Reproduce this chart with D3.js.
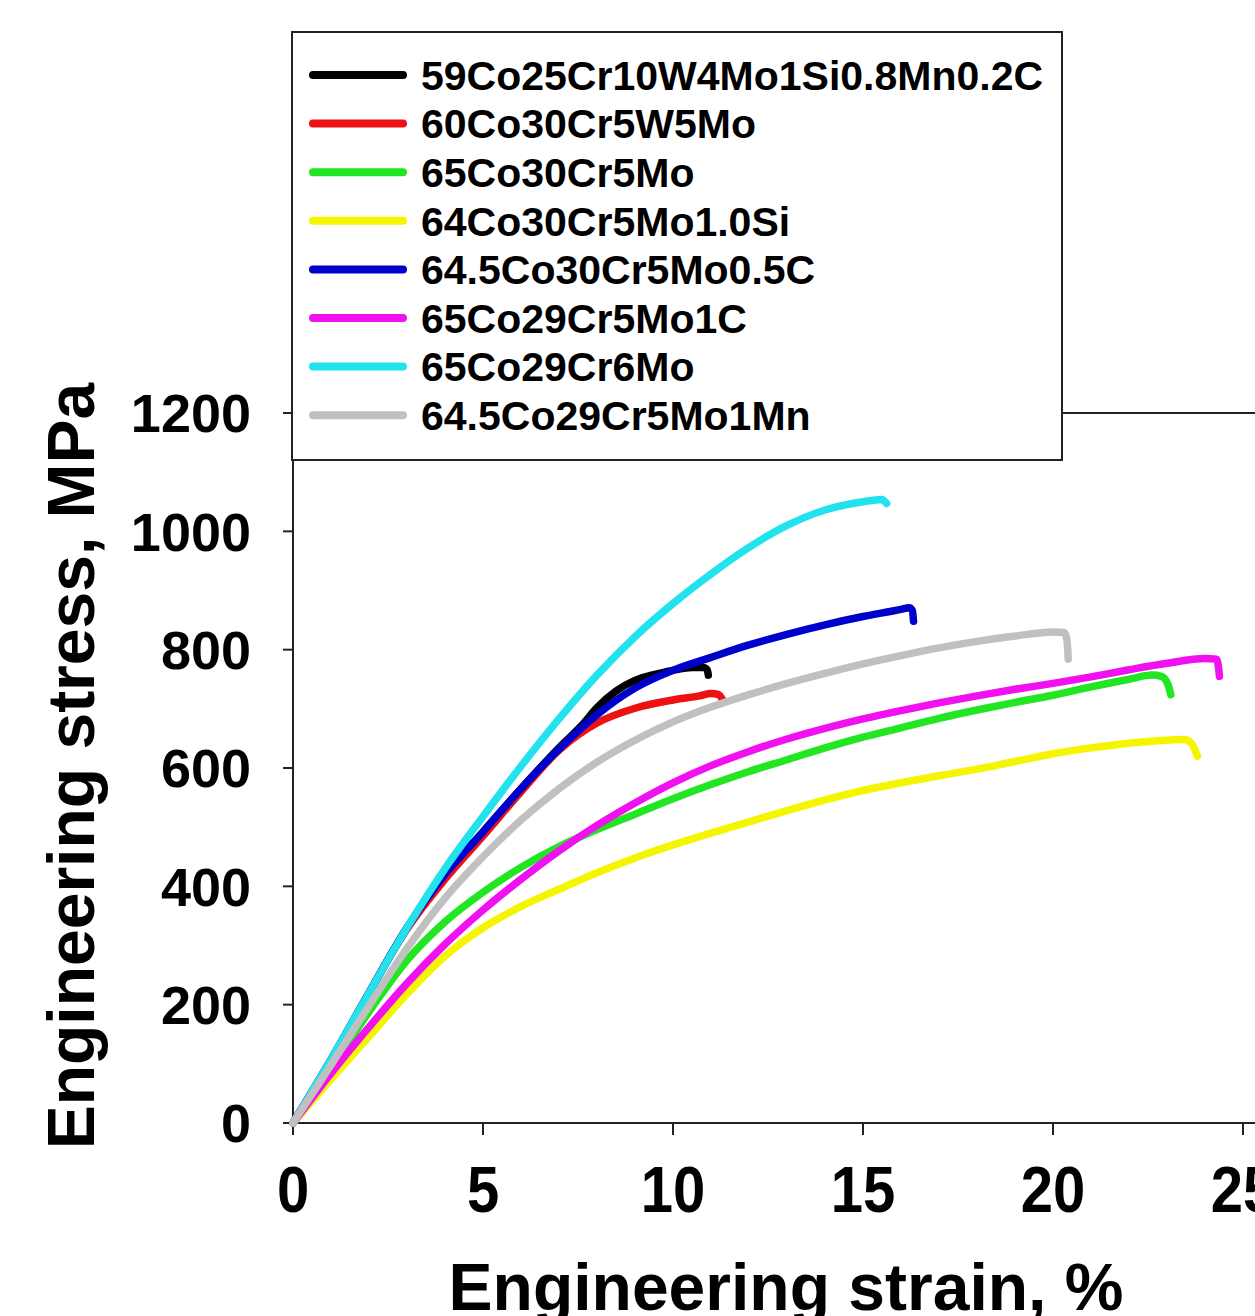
<!DOCTYPE html>
<html>
<head>
    <meta charset="utf-8">
    <script src="https://d3js.org/d3.v7.min.js"></script>
    <style>
        body { margin: 0; background: #fff; }
        text { font-family: "Liberation Sans", Arial, sans-serif; font-weight: bold; fill: #000; }
    </style>
</head>
<body>
    <div id="chart"></div>
    <script>

        // alloy names (legend order) and line colours
        const alloys = ["59Co25Cr10W4Mo1Si0.8Mn0.2C", "60Co30Cr5W5Mo", "65Co30Cr5Mo", "64Co30Cr5Mo1.0Si",
                        "64.5Co30Cr5Mo0.5C", "65Co29Cr5Mo1C", "65Co29Cr6Mo", "64.5Co29Cr5Mo1Mn"];
        const colors = ["#000000", "#ee1111", "#22e622", "#f5f500", "#0000cc", "#f010f0", "#22e2ee", "#c0c0c0"];

        // [strain %, stress MPa]
        const co59 = [[0,0],[1,107],[2,220],[3,330],[4,420],[5,492],[6,565],[7,634],[7.6,672],[8,702],[8.5,730],
                      [9,748],[9.5,758],[10,765],[10.5,770],[10.8,770],[10.9,766],[10.93,757]];
        const co60 = [[0,0],[1,107],[2,220],[3,328],[4,412],[5,485],[6,560],[7,630],[8,676],[9,701],
                      [10,715],[10.7,722],[11,726],[11.2,724],[11.3,716]];
        const co65 = [[0,0],[1,92],[2,188],[3,275],[4,340],[5,390],[6,432],[7,467],[8,496],[9,522],[10,548],
                      [11,572],[12,594],[13,614],[14,634],[15,652],[16,668],[17,684],[18,698],[19,711],[20,723],
                      [21,737],[22,750],[22.6,757],[22.85,755],[23.02,742],[23.1,724]];
        const co64 = [[0,0],[1,74],[2,146],[3,218],[4,282],[5,330],[6,366],[7,395],[8,423],[9,448],[10,470],
                      [11,490],[12,509],[13,528],[14,546],[15,562],[16,575],[17,587],[18,598],[19,611],[20,624],
                      [21,634],[22,642],[23,647],[23.45,648],[23.65,641],[23.8,620]];
        const co645c = [[0,0],[1,107],[2,220],[3,330],[4,420],[5,492],[6,565],[7,632],[8,690],[9,735],
                        [10,765],[11,787],[12,808],[13,826],[14,842],[15,856],[16,868],[16.22,871],[16.3,866],[16.33,848]];
        const co65c = [[0,0],[1,84],[2,162],[3,236],[4,302],[5,360],[6,412],[7,460],[8,503],[9,541],[10,575],
                       [11,604],[12,628],[13,649],[14,667],[15,683],[16,697],[17,710],[18,722],[19,733],[20,743],
                       [21,754],[22,766],[23,777],[24,785],[24.3,784],[24.36,768],[24.38,755]];
        const co65mo = [[0,0],[1,108],[2,220],[3,330],[4,430],[5,518],[6,603],[7,683],[8,757],[9,822],[10,878],
                        [11,928],[12,973],[13,1010],[14,1036],[15,1050],[15.5,1054],[15.62,1047]];
        const co645mn = [[0,0],[1,98],[2,198],[3,295],[4,380],[5,450],[6,512],[7,565],[8,610],[9,647],[10,678],
                         [11,703],[12,724],[13,743],[14,760],[15,776],[16,790],[17,803],[18,814],[19,823],[20,830],
                         [20.3,829],[20.37,815],[20.4,784]];

        const xTicks = [0, 5, 10, 15, 20, 25];
        const yTicks = [0, 200, 400, 600, 800, 1000, 1200];

        const series = [co59, co60, co65, co64, co645c, co65c, co65mo, co645mn];

        const width = 1255, height = 1316;

        const svg = d3.select("#chart")
            .append("svg")
            .attr("width", width)
            .attr("height", height);

        const x = d3.scaleLinear().domain([0, 25]).range([293, 1243]);
        const y = d3.scaleLinear().domain([0, 1200]).range([1123, 413]);

        const axisColor = "#222";

        // frame: top line, left and bottom axes
        svg.append("line").attr("x1", x(0)).attr("x2", width).attr("y1", y(1200)).attr("y2", y(1200))
            .attr("stroke", axisColor).attr("stroke-width", 2);
        svg.append("line").attr("x1", x(0)).attr("x2", x(0)).attr("y1", y(1200)).attr("y2", y(0))
            .attr("stroke", axisColor).attr("stroke-width", 2);
        svg.append("line").attr("x1", x(0)).attr("x2", width).attr("y1", y(0)).attr("y2", y(0))
            .attr("stroke", axisColor).attr("stroke-width", 2);

        // y ticks + labels
        svg.selectAll(".ytick").data(yTicks).enter()
            .append("line")
            .attr("x1", x(0) - 10).attr("x2", x(0))
            .attr("y1", d => y(d)).attr("y2", d => y(d))
            .attr("stroke", axisColor).attr("stroke-width", 2);

        svg.selectAll(".ylab").data(yTicks).enter()
            .append("text")
            .attr("x", 251)
            .attr("y", d => y(d))
            .attr("dy", "0.36em")
            .attr("text-anchor", "end")
            .style("font-size", "54px")
            .text(d => d);

        // x ticks + labels (labels are a bit taller than wide in the original)
        svg.selectAll(".xtick").data(xTicks).enter()
            .append("line")
            .attr("x1", d => x(d)).attr("x2", d => x(d))
            .attr("y1", y(0)).attr("y2", y(0) + 12)
            .attr("stroke", axisColor).attr("stroke-width", 2);

        svg.selectAll(".xlab").data(xTicks).enter()
            .append("text")
            .attr("transform", d => `translate(${x(d)},1212) scale(1,1.13)`)
            .attr("text-anchor", "middle")
            .style("font-size", "58px")
            .text(d => d);

        // axis titles
        svg.append("text")
            .attr("x", 786).attr("y", 1310)
            .attr("text-anchor", "middle")
            .style("font-size", "66px")
            .text("Engineering strain, %");

        svg.append("text")
            .attr("transform", "translate(94,766) rotate(-90)")
            .attr("text-anchor", "middle")
            .style("font-size", "66px")
            .text("Engineering stress, MPa");

        // curves
        const line = d3.line()
            .x(d => x(d[0]))
            .y(d => y(d[1]))
            .curve(d3.curveMonotoneX);

        svg.selectAll(".curve").data(series).enter()
            .append("path")
            .attr("d", line)
            .attr("fill", "none")
            .attr("stroke", (d, i) => colors[i])
            .attr("stroke-width", 7.5)
            .attr("stroke-linejoin", "round")
            .attr("stroke-linecap", "round");

        // legend
        const legend = svg.append("g");
        legend.append("rect")
            .attr("x", 292).attr("y", 32)
            .attr("width", 770).attr("height", 428)
            .attr("fill", "#fff")
            .attr("stroke", axisColor).attr("stroke-width", 2);

        const rowY = i => 75 + i * 48.6;

        legend.selectAll(".swatch").data(alloys).enter()
            .append("line")
            .attr("x1", 313).attr("x2", 403)
            .attr("y1", (d, i) => rowY(i)).attr("y2", (d, i) => rowY(i))
            .attr("stroke", (d, i) => colors[i])
            .attr("stroke-width", 8)
            .attr("stroke-linecap", "round");

        legend.selectAll(".label").data(alloys).enter()
            .append("text")
            .attr("x", 421)
            .attr("y", (d, i) => rowY(i))
            .attr("dy", "0.36em")
            .style("font-size", "41px")
            .text(d => d);

    </script>
</body>
</html>
